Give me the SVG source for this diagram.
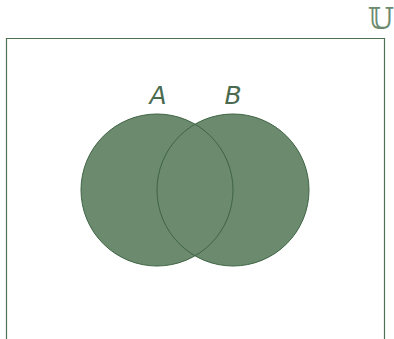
<svg xmlns="http://www.w3.org/2000/svg" width="394" height="339" viewBox="0 0 394 339">
<style>
.lbl{font-family:"DejaVu Sans","Liberation Sans",sans-serif;font-style:italic;font-size:25px;fill:#4a6b50}
.set{fill:#6b8a6e;stroke:none}
.edge{fill:none;stroke:#3f6445;stroke-width:1}
</style>
<rect width="394" height="339" fill="#ffffff"/>
<g id="universe">
<path d="M6.5 345 V38.5 H384.5 V345" fill="none" stroke="#4f7256" stroke-width="1.2"/>
<text x="394" y="29" text-anchor="end" font-family="DejaVu Serif,serif" font-size="30" fill="#6b8a6e">𝕌</text>
</g>
<g id="setA">
<circle class="set" cx="157" cy="190" r="76"/>
<text class="lbl" x="158" y="104" text-anchor="middle">A</text>
</g>
<g id="setB">
<circle class="set" cx="233" cy="190" r="76"/>
<text class="lbl" x="233" y="104" text-anchor="middle">B</text>
</g>
<g id="outlines">
<circle class="edge" cx="157" cy="190" r="76"/>
<circle class="edge" cx="233" cy="190" r="76"/>
</g>
</svg>
